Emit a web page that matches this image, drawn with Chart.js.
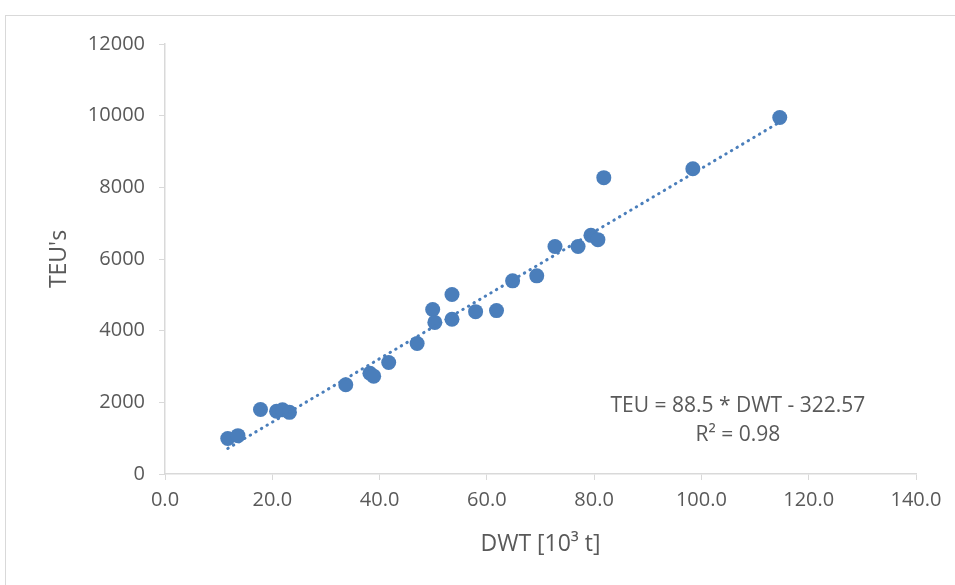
<!DOCTYPE html>
<html>
<head>
<meta charset="utf-8">
<script src="https://cdn.jsdelivr.net/npm/chart.js@4.4.1/dist/chart.umd.min.js"></script>
<style>
  html, body { margin: 0; padding: 0; background: #fff; }
  #wrap { position: relative; width: 955px; height: 585px; }
</style>
</head>
<body>
<div id="wrap"><canvas id="chart1"></canvas></div>
<script>
// DWT (thousand tonnes) and TEU
const dwt = [11.7, 13.6, 17.8, 20.8, 21.9, 23.2, 33.7, 38.2, 38.9, 41.7, 47.0, 49.9, 50.3,
  53.5, 53.5, 57.9, 61.8, 64.8, 69.3, 72.7, 77.0, 79.4, 80.7, 81.8, 98.4, 114.6];
const teu = [990, 1070, 1800, 1750, 1790, 1720, 2490, 2810, 2730, 3110, 3640, 4590, 4230,
  5010, 4320, 4530, 4560, 5390, 5530, 6350, 6350, 6660, 6540, 8270, 8520, 9950];

// trend line end points (TEU = 88.5 * DWT - 322.57)
const trendX = [11.7, 114.6];
const trendY = [713, 9820];

const xTicks = [0, 20, 40, 60, 80, 100, 120, 140];
const yTicks = [0, 2000, 4000, 6000, 8000, 10000, 12000];

const eqLines = ["TEU = 88.5 * DWT - 322.57", "R\u00B2 = 0.98"];

const fontFam = "'Open Sans', 'DejaVu Sans', sans-serif";
const gris = "#595959";
const lineaGris = "#d9d9d9";
const azul = "#4a7ebb";

const puntos = dwt.map((d, i) => ({ x: d, y: teu[i] }));
const tendencia = trendX.map((d, i) => ({ x: d, y: trendY[i] }));

// marco del area del grafico y texto de la ecuacion
const extras = {
  id: "extras",
  beforeDraw(chart) {
    const c = chart.ctx;
    c.save();
    c.strokeStyle = lineaGris;
    c.lineWidth = 1;
    c.strokeRect(5.5, 15.5, 1200, 1200);
    c.restore();
  },
  afterDraw(chart) {
    const c = chart.ctx;
    const sx = chart.scales.x, sy = chart.scales.y;
    c.save();
    c.fillStyle = gris;
    c.font = "21px " + fontFam;
    c.textAlign = "center";
    c.textBaseline = "middle";
    c.fillText(eqLines[0], sx.getPixelForValue(106.8), sy.getPixelForValue(1890));
    c.fillText(eqLines[1], sx.getPixelForValue(106.8), sy.getPixelForValue(1080));
    c.restore();
  },
};

var ctx1 = document.getElementById("chart1").getContext("2d");
var chart1 = new Chart(ctx1, {
  type: "scatter",
  data: {
    datasets: [
      {
        label: "Tendencia",
        type: "line",
        data: tendencia,
        borderColor: azul,
        borderWidth: 3,
        borderDash: [0.5, 6],
        borderCapStyle: "round",
        pointRadius: 0,
        fill: false,
      },
      {
        label: "Buques",
        data: puntos,
        backgroundColor: azul,
        borderColor: azul,
        pointRadius: 7.5,
        pointBorderWidth: 0,
      },
    ],
  },
  options: {
    responsive: true,
    maintainAspectRatio: false,
    animation: false,
    layout: { padding: { top: 44, right: 39, bottom: 0, left: 0 } },
    plugins: {
      legend: { display: false },
      tooltip: { enabled: false },
    },
    scales: {
      x: {
        type: "linear",
        min: 0,
        max: 140,
        afterBuildTicks: (s) => { s.ticks = xTicks.map((v) => ({ value: v })); },
        afterFit: (s) => { s.height = 111; },
        grid: { drawOnChartArea: false, drawTicks: true, tickLength: 6, color: lineaGris },
        border: { color: lineaGris, width: 1.5 },
        ticks: {
          color: gris,
          padding: 8,
          font: { family: fontFam, size: 20 },
          callback: (v) => Number(v).toFixed(1),
        },
        title: {
          display: true,
          text: "DWT [10\u00B3 t]",
          color: gris,
          font: { family: fontFam, size: 23 },
          padding: { top: 0, bottom: 27 },
        },
      },
      y: {
        type: "linear",
        min: 0,
        max: 12000,
        afterBuildTicks: (s) => { s.ticks = yTicks.map((v) => ({ value: v })); },
        afterFit: (s) => { s.width = 165; },
        grid: { drawOnChartArea: false, drawTicks: true, tickLength: 6, color: lineaGris },
        border: { color: lineaGris, width: 1.5 },
        ticks: {
          color: gris,
          padding: 14,
          font: { family: fontFam, size: 20 },
          callback: (v) => String(v),
        },
        title: {
          display: true,
          text: "TEU's",
          color: gris,
          font: { family: fontFam, size: 23 },
          padding: { top: 46, bottom: 0 },
        },
      },
    },
  },
  plugins: [extras],
});
</script>
</body>
</html>
